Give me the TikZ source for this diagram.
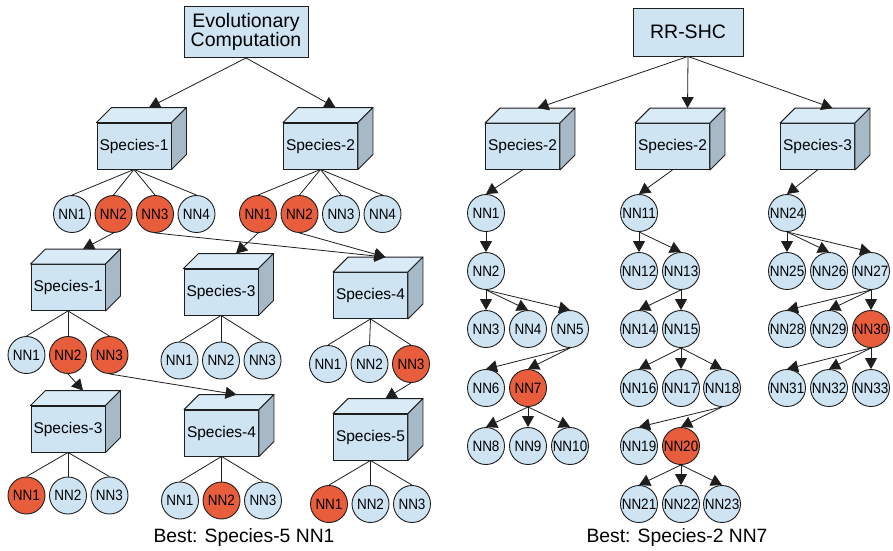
\documentclass[tikz,border=0pt]{standalone}
\usepackage{fontspec}
\setmainfont{Liberation Sans}
\newfontfamily\nnfont[FakeStretch=0.9]{Liberation Sans}
\usetikzlibrary{arrows.meta,calc}

\definecolor{nnblue}{RGB}{207,228,243}
\definecolor{nnred}{RGB}{232,94,60}
\definecolor{cubetop}{RGB}{218,235,248}
\definecolor{cubeside}{RGB}{167,185,198}
\definecolor{edgecol}{RGB}{30,30,30}

\tikzset{
  nn/.style={circle, draw=edgecol, line width=0.9pt, fill=nnblue,
    minimum size=37pt, inner sep=0pt, font=\nnfont\fontsize{15}{15}\selectfont},
  nnbest/.style={nn, fill=nnred},
  front/.style={draw=edgecol, line width=0.9pt, fill=nnblue,
    minimum width=74pt, minimum height=46pt, inner sep=0pt,
    font=\fontsize{15.5}{16}\selectfont},
  cubeface/.style={draw=edgecol, line width=0.9pt, line join=round},
  rootbox/.style={draw=edgecol, line width=0.9pt, fill=nnblue, inner sep=0pt,
    align=center, font=\fontsize{19.5}{19}\selectfont},
  link/.style={draw=edgecol, line width=0.8pt},
  arr/.style={link, -{Triangle[length=11pt,width=12pt]}},
  besttext/.style={font=\fontsize{19.3}{19}\selectfont},
}

% a species cube: front face is the node, top and side faces drawn behind it
\newcommand\speciescube[3]{%
  \node[front] (#1) at (#2) {#3};
  \draw[cubeface, fill=cubetop] (#1.north west) -- ++(15,-15)
    -- ($(#1.north east)+(15,-15)$) -- (#1.north east) -- cycle;
  \draw[cubeface, fill=cubeside] (#1.north east) -- ++(15,-15)
    -- ($(#1.south east)+(15,-15)$) -- (#1.south east) -- cycle;
  \coordinate (#1-top) at ($(#1.north)+(15,-15)$);
}

\begin{document}
\begin{tikzpicture}[x=1pt, y=-1pt]
\useasboundingbox[fill=white] (0,0) rectangle (893,550);

% ---------------- evolutionary computation tree ----------------
\node[rootbox, minimum width=124pt, minimum height=51pt] (ec) at (246,32)
  {Evolutionary\\Computation};

\speciescube{sA}{134,146}{Species-1}
\speciescube{sB}{320.5,146}{Species-2}

\node[nn]     (a1) at (72,214)    {NN1};
\node[nnbest] (a2) at (113.5,214) {NN2};
\node[nnbest] (a3) at (155,214)   {NN3};
\node[nn]     (a4) at (196.5,214) {NN4};
\node[nnbest] (b1) at (258,214)   {NN1};
\node[nnbest] (b2) at (299.5,214) {NN2};
\node[nn]     (b3) at (341,214)   {NN3};
\node[nn]     (b4) at (382.5,214) {NN4};

\speciescube{sC}{68,287.5}{Species-1}
\speciescube{sD}{221,292}{Species-3}
\speciescube{sE}{370.5,295.5}{Species-4}

\node[nn]     (c1) at (26.5,355) {NN1};
\node[nnbest] (c2) at (68,355)   {NN2};
\node[nnbest] (c3) at (109.5,355) {NN3};
\node[nn]     (d1) at (179.5,360.5) {NN1};
\node[nn]     (d2) at (221,360.5)   {NN2};
\node[nn]     (d3) at (262.5,360.5) {NN3};
\node[nn]     (e1) at (328,364)   {NN1};
\node[nn]     (e2) at (369.5,364) {NN2};
\node[nnbest] (e3) at (411,364)   {NN3};

\speciescube{sF}{68,429}{Species-3}
\speciescube{sG}{221.5,433}{Species-4}
\speciescube{sH}{370.5,437}{Species-5}

\node[nnbest] (f1) at (26.5,495.5) {NN1};
\node[nn]     (f2) at (68,495.5)   {NN2};
\node[nn]     (f3) at (109.5,495.5) {NN3};
\node[nn]     (g1) at (180,500.5)   {NN1};
\node[nnbest] (g2) at (221.5,500.5) {NN2};
\node[nn]     (g3) at (263,500.5)   {NN3};
\node[nnbest] (h1) at (329,504)   {NN1};
\node[nn]     (h2) at (370.5,504) {NN2};
\node[nn]     (h3) at (412,504)   {NN3};

\draw[arr] (ec.south) -- (sA-top);
\draw[arr] (ec.south) -- (sB-top);
\foreach \n in {a1,a2,a3,a4} \draw[link] (sA.south) -- (\n.north);
\foreach \n in {b1,b2,b3,b4} \draw[link] (sB.south) -- (\n.north);
\draw[arr] (a2.south) -- (sC-top);
\draw[arr] (a3.south) -- (sE-top);
\draw[arr] (b1.south) -- (sD-top);
\draw[arr] (b2.south) -- (sE-top);
\foreach \n in {c1,c2,c3} \draw[link] (sC.south) -- (\n.north);
\foreach \n in {d1,d2,d3} \draw[link] (sD.south) -- (\n.north);
\foreach \n in {e1,e2,e3} \draw[link] (sE.south) -- (\n.north);
\draw[arr] (c2.south) -- (sF-top);
\draw[arr] (c3.south) -- (sG-top);
\draw[arr] (e3.south) -- (sH-top);
\foreach \n in {f1,f2,f3} \draw[link] (sF.south) -- (\n.north);
\foreach \n in {g1,g2,g3} \draw[link] (sG.south) -- (\n.north);
\foreach \n in {h1,h2,h3} \draw[link] (sH.south) -- (\n.north);

\node[besttext] (bestL) at (244,537) {Best: Species-5 NN1};

% ---------------- RR-SHC tree ----------------
\node[rootbox, minimum width=110pt, minimum height=48pt] (rr) at (688,32) {RR-SHC};

\speciescube{tA}{522.5,146.5}{Species-2}
\speciescube{tB}{672.5,146.5}{Species-2}
\speciescube{tC}{817.5,146.5}{Species-3}

\node[nn] (p1) at (486,213) {NN1};
\node[nn] (p2) at (486,271) {NN2};
\node[nn] (p3) at (486,329) {NN3};
\node[nn] (p4) at (528,329) {NN4};
\node[nn] (p5) at (570,329) {NN5};
\node[nn] (p6) at (486,388) {NN6};
\node[nnbest] (p7) at (528,388) {NN7};
\node[nn] (p8) at (486,446) {NN8};
\node[nn] (p9) at (528,446) {NN9};
\node[nn] (p10) at (570,446) {NN10};

\node[nn] (q11) at (639,213) {NN11};
\node[nn] (q12) at (639,271) {NN12};
\node[nn] (q13) at (681,271) {NN13};
\node[nn] (q14) at (639,329) {NN14};
\node[nn] (q15) at (681,329) {NN15};
\node[nn] (q16) at (639,388) {NN16};
\node[nn] (q17) at (681,388) {NN17};
\node[nn] (q18) at (722,388) {NN18};
\node[nn] (q19) at (639,446) {NN19};
\node[nnbest] (q20) at (681,446) {NN20};
\node[nn] (q21) at (639,504) {NN21};
\node[nn] (q22) at (681,504) {NN22};
\node[nn] (q23) at (722,504) {NN23};

\node[nn] (r24) at (787,213) {NN24};
\node[nn] (r25) at (787,271) {NN25};
\node[nn] (r26) at (829,271) {NN26};
\node[nn] (r27) at (871,271) {NN27};
\node[nn] (r28) at (787,329) {NN28};
\node[nn] (r29) at (829,329) {NN29};
\node[nnbest] (r30) at (871,329) {NN30};
\node[nn] (r31) at (787,388) {NN31};
\node[nn] (r32) at (829,388) {NN32};
\node[nn] (r33) at (871,388) {NN33};

\draw[arr] (rr.south) -- (tA-top);
\draw[arr] (rr.south) -- (tB-top);
\draw[arr] (rr.south) -- (tC-top);

\draw[arr] (tA.south) -- (p1.north);
\draw[arr] (p1.south) -- (p2.north);
\foreach \n in {p3,p4,p5} \draw[arr] (p2.south) -- (\n.north);
\foreach \n in {p6,p7} \draw[arr] (p5.south) -- (\n.north);
\foreach \n in {p8,p9,p10} \draw[arr] (p7.south) -- (\n.north);

\draw[arr] (tB.south) -- (q11.north);
\foreach \n in {q12,q13} \draw[arr] (q11.south) -- (\n.north);
\foreach \n in {q14,q15} \draw[arr] (q13.south) -- (\n.north);
\foreach \n in {q16,q17,q18} \draw[arr] (q15.south) -- (\n.north);
\foreach \n in {q19,q20} \draw[arr] (q18.south) -- (\n.north);
\foreach \n in {q21,q22,q23} \draw[arr] (q20.south) -- (\n.north);

\draw[arr] (tC.south) -- (r24.north);
\foreach \n in {r25,r26,r27} \draw[arr] (r24.south) -- (\n.north);
\foreach \n in {r28,r29,r30} \draw[arr] (r27.south) -- (\n.north);
\foreach \n in {r31,r32,r33} \draw[arr] (r30.south) -- (\n.north);

\node[besttext] (bestR) at (677,537) {Best: Species-2 NN7};
\end{tikzpicture}
\end{document}
